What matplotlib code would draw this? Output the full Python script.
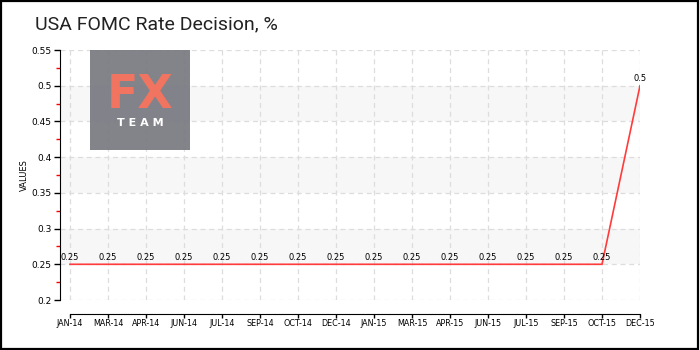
import matplotlib
matplotlib.use("Agg")
import matplotlib.pyplot as plt
from matplotlib.patches import Rectangle
from matplotlib.ticker import MultipleLocator

# --- dados ---
meses = ["JAN-14", "MAR-14", "APR-14", "JUN-14", "JUL-14", "SEP-14", "OCT-14", "DEC-14",
         "JAN-15", "MAR-15", "APR-15", "JUN-15", "JUL-15", "SEP-15", "OCT-15", "DEC-15"]
taxa = [0.25, 0.25, 0.25, 0.25, 0.25, 0.25, 0.25, 0.25,
        0.25, 0.25, 0.25, 0.25, 0.25, 0.25, 0.25, 0.5]
titulo = "USA FOMC Rate Decision, %"

fig = plt.figure(figsize=(7, 3.5), dpi=100)
fig.patch.set_facecolor("white")
# moldura externa
fig.add_artist(Rectangle((0.002, 0.003), 0.995, 0.994, transform=fig.transFigure,
                         fill=False, edgecolor="black", linewidth=1.6))

ax = fig.add_axes([60 / 700, 50 / 350, 580 / 700, 250 / 350])
x = list(range(len(meses)))
passo = 38.0
ax.set_xlim(-10 / passo, len(meses) - 1)
ax.set_ylim(0.2, 0.55)

# faixas alternadas
for y0 in (0.25, 0.35, 0.45):
    ax.axhspan(y0, y0 + 0.05, color="#f7f7f7", zorder=0, linewidth=0)

ax.yaxis.set_major_locator(MultipleLocator(0.05))
ax.yaxis.set_minor_locator(MultipleLocator(0.025))
ax.set_xticks(x)
ax.set_xticklabels(meses)
ax.grid(True, which="major", color="#dddddd", linestyle=(0, (4, 3)), linewidth=0.9)
ax.set_axisbelow(True)

for lado in ("top", "right"):
    ax.spines[lado].set_visible(False)
ax.spines["left"].set_bounds(0.2, 0.55)
ax.spines["bottom"].set_position(("outward", 10))
ax.spines["bottom"].set_bounds(0, len(meses) - 1)

ax.tick_params(axis="y", which="major", length=4, width=1, labelsize=6.5, pad=2)
ax.tick_params(axis="y", which="minor", length=3, width=1, color="red")
ax.tick_params(axis="x", length=3, width=1, labelsize=5.8, pad=1)
ax.set_yticklabels(["{:g}".format(v) for v in ax.get_yticks()])

ax.plot(x, taxa, color="#ff3b3b", linewidth=1.2, zorder=3)
for xi, v in zip(x, taxa):
    ax.annotate("{:g}".format(v), (xi, v), textcoords="offset points", xytext=(0, 2),
                ha="center", va="bottom", fontsize=6, zorder=4)

ax.set_ylabel("VALUES", fontsize=6, labelpad=2)

# logotipo (levemente transparente, a grade aparece por baixo)
logo = fig.add_axes([90 / 700, 200 / 350, 100 / 700, 100 / 350])
logo.set_facecolor((0.486, 0.486, 0.518, 0.95))
logo.set_xticks([])
logo.set_yticks([])
for s in logo.spines.values():
    s.set_visible(False)
logo.text(0.5, 0.42, "FX", color="#f07460", fontsize=33, ha="center", va="baseline",
          fontweight="bold", transform=logo.transAxes)
logo.text(0.5, 0.27, "T E A M", color="white", fontsize=8, ha="center", va="center",
          transform=logo.transAxes, fontweight="bold")

fig.text(35 / 700, 1 - 24 / 350, titulo, fontsize=14, family=["Roboto", "DejaVu Sans"],
         ha="left", va="center", color="#222222")

fig.savefig("out.png", dpi=100)
